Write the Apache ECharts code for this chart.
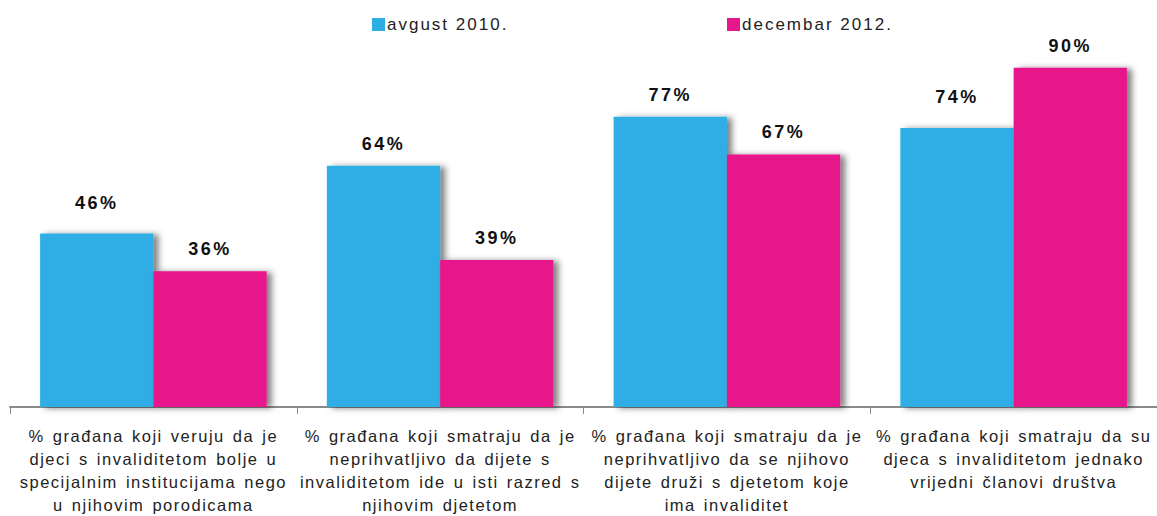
<!DOCTYPE html>
<html><head><meta charset="utf-8">
<script src="https://cdn.jsdelivr.net/npm/echarts@6/dist/echarts.min.js"></script>
<style>html,body{margin:0;padding:0;background:#fff}#c{width:1157px;height:516px}</style>
</head><body><div id="c"></div>
<script>
const categories = [
  "% građana koji veruju da je\ndjeci s invaliditetom bolje u\nspecijalnim institucijama nego\nu njihovim porodicama",
  "% građana koji smatraju da je\nneprihvatljivo da dijete s\ninvaliditetom ide u isti razred s\nnjihovim djetetom",
  "% građana koji smatraju da je\nneprihvatljivo da se njihovo\ndijete druži s djetetom koje\nima invaliditet",
  "% građana koji smatraju da su\ndjeca s invaliditetom jednako\nvrijedni članovi društva"
];
const seriesNames = ["avgust 2010.", "decembar 2012."];
const aug2010 = [46, 64, 77, 74];
const dec2012 = [36, 39, 67, 90];

const chart = echarts.init(document.getElementById('c'), null, {renderer: 'svg'});
function labelCfg(dist) {
  return {
    show: true, position: 'top', distance: dist,
    formatter: '{c}%', color: '#111', fontWeight: 'bold', fontSize: 18,
    fontFamily: 'Liberation Sans'
  };
}
// a few labels sit higher above their bars in the reference
const raisedAug = {0: true, 3: true};
const itemShadow = {shadowColor: 'rgba(0,0,0,0.5)', shadowBlur: 6, shadowOffsetX: 5, shadowOffsetY: 1};
chart.setOption({
  animation: false,
  textStyle: {fontFamily: 'Liberation Sans'},
  legend: [
    {data: [seriesNames[0]], left: 372, top: 16, padding: 0, icon: 'rect', itemWidth: 13, itemHeight: 13,
     textStyle: {fontSize: 17, color: '#222', padding: [0,0,0,-3]}},
    {data: [seriesNames[1]], left: 727, top: 16, padding: 0, icon: 'rect', itemWidth: 13, itemHeight: 13,
     textStyle: {fontSize: 17, color: '#222', padding: [0,0,0,-3]}}
  ],
  grid: {left: 10, right: -6, top: 30, bottom: 106, containLabel: false},
  xAxis: {
    type: 'category', data: categories,
    axisLine: {lineStyle: {color: '#8a8a8a', width: 2}},
    axisTick: {show: true, length: 7, lineStyle: {color: '#8a8a8a', width: 1}},
    axisLabel: {interval: 0, fontSize: 16.5, color: '#222', lineHeight: 23, margin: 17}
  },
  yAxis: {type: 'value', min: 0, max: 100, show: false, splitLine: {show: false}},
  series: [
    {name: seriesNames[0], type: 'bar', barGap: '0%', barCategoryGap: '21%',
     data: aug2010.map((v, i) => ({value: v, label: labelCfg(raisedAug[i] ? 22 : 13)})),
     itemStyle: Object.assign({color: '#2DAEE4'}, itemShadow), label: labelCfg(13)},
    {name: seriesNames[1], type: 'bar', data: dec2012,
     itemStyle: Object.assign({color: '#E8168B'}, itemShadow), label: labelCfg(13)}
  ]
});
function spaceText() {
  document.querySelectorAll('#c svg text').forEach(t => {
    const fs = parseFloat(getComputedStyle(t).fontSize);
    if (fs >= 18) { t.style.letterSpacing = '2.5px'; }
    else if (fs >= 17) { t.style.letterSpacing = '2px'; }
    else { t.style.letterSpacing = '1.5px'; t.style.wordSpacing = '2px'; }
  });
}
chart.on('finished', spaceText);
spaceText();
setTimeout(spaceText, 50);
</script></body></html>
